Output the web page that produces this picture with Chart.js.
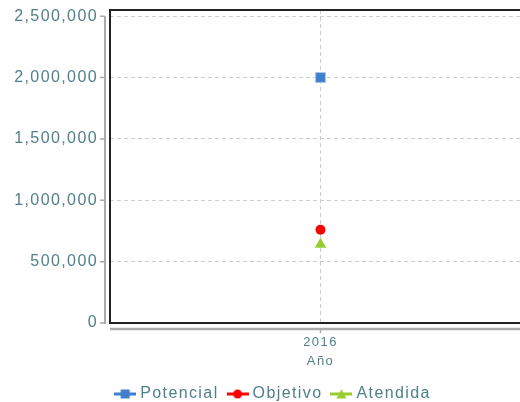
<!DOCTYPE html>
<html>
<head>
<meta charset="utf-8">
<script src="https://cdn.jsdelivr.net/npm/chart.js@4.4.0/dist/chart.umd.min.js"></script>
<style>
  html, body { margin: 0; padding: 0; background: #fff; overflow: hidden; }
  #wrap { width: 539px; height: 402px; }
</style>
</head>
<body>
<div id="wrap"><canvas id="chart"></canvas></div>
<script>
// data
const years = ['2016'];
const potencial = [2000000];
const objetivo = [760000];
const atendida = [640000];
const yTicks = [0, 500000, 1000000, 1500000, 2000000, 2500000];

const TEXT = '#4f7f8a';
const BLUE = '#3f7fcc';
const RED = '#ff0000';
const GREEN = '#99cc33';

Chart.defaults.font.family = '"Liberation Sans", Arial, sans-serif';
Chart.defaults.color = TEXT;

// small line + marker pictures for the legend
function legendMarker(color, shape) {
    const c = document.createElement('canvas');
    c.width = 22;
    c.height = 12;
    const g = c.getContext('2d');
    g.strokeStyle = color;
    g.fillStyle = color;
    g.lineWidth = 3;
    g.beginPath();
    g.moveTo(0, 6);
    g.lineTo(22, 6);
    g.stroke();
    g.beginPath();
    if (shape === 'rect') {
        g.rect(6.5, 1.5, 9, 9);
    } else if (shape === 'circle') {
        g.arc(11, 6, 4.5, 0, Math.PI * 2);
    } else {
        g.moveTo(11, 1);
        g.lineTo(16, 10.5);
        g.lineTo(6, 10.5);
        g.closePath();
    }
    g.fill();
    return c;
}

const markers = [
    legendMarker(BLUE, 'rect'),
    legendMarker(RED, 'circle'),
    legendMarker(GREEN, 'triangle')
];

// black frame round the plot, plus the grey axis lines set off from it
const framePlugin = {
    id: 'frame',
    beforeLayout(chart) {
        chart.ctx.letterSpacing = '1.4px';
    },
    beforeDraw(chart) {
        chart.ctx.letterSpacing = '1.4px';
    },
    afterDraw(chart) {
        const { ctx, chartArea: a, scales: { x, y } } = chart;
        ctx.save();
        ctx.strokeStyle = '#222';
        ctx.lineWidth = 2;
        ctx.beginPath();
        ctx.moveTo(a.right + 2, a.top);
        ctx.lineTo(a.left, a.top);
        ctx.lineTo(a.left, a.bottom);
        ctx.lineTo(a.right + 2, a.bottom);
        ctx.stroke();

        ctx.strokeStyle = '#aaaaaa';
        ctx.lineWidth = 2;
        const yTop = y.getPixelForValue(yTicks[yTicks.length - 1]);
        const yBot = y.getPixelForValue(yTicks[0]);
        const axX = a.left - 5;
        ctx.beginPath();
        ctx.moveTo(axX, yTop);
        ctx.lineTo(axX, yBot + 1);
        ctx.stroke();
        ctx.lineWidth = 1.5;
        ctx.beginPath();
        for (const v of yTicks) {
            const py = y.getPixelForValue(v);
            ctx.moveTo(axX - 5, py);
            ctx.lineTo(axX, py);
        }
        ctx.stroke();

        const axY = a.bottom + 6;
        ctx.lineWidth = 2.5;
        ctx.beginPath();
        ctx.moveTo(a.left, axY);
        ctx.lineTo(a.right + 2, axY);
        ctx.stroke();
        ctx.lineWidth = 1.5;
        ctx.beginPath();
        years.forEach((_, i) => {
            const px = x.getPixelForTick(i);
            ctx.moveTo(px, axY);
            ctx.lineTo(px, axY + 4);
        });
        ctx.stroke();
        ctx.restore();
    }
};

new Chart(document.getElementById('chart'), {
    type: 'line',
    data: {
        labels: years,
        datasets: [
            {
                label: 'Potencial',
                data: potencial,
                showLine: false,
                pointStyle: 'rect',
                pointRadius: 7,
                backgroundColor: BLUE,
                borderColor: '#a9c6ec',
                pointBorderWidth: 1
            },
            {
                label: 'Objetivo',
                data: objetivo,
                showLine: false,
                pointStyle: 'circle',
                pointRadius: 5,
                backgroundColor: RED,
                borderColor: RED,
                pointBorderWidth: 0
            },
            {
                label: 'Atendida',
                data: atendida,
                showLine: false,
                pointStyle: 'triangle',
                pointRadius: 6.7,
                backgroundColor: GREEN,
                borderColor: GREEN,
                pointBorderWidth: 0
            }
        ]
    },
    options: {
        responsive: true,
        maintainAspectRatio: false,
        animation: false,
        layout: { padding: { top: 10, left: 10, right: 0, bottom: -10 } },
        plugins: {
            tooltip: { enabled: false },
            legend: {
                position: 'bottom',
                labels: {
                    usePointStyle: true,
                    pointStyleWidth: 14,
                    padding: 12,
                    font: { size: 16 },
                    color: TEXT,
                    generateLabels(chart) {
                        const items = Chart.defaults.plugins.legend.labels.generateLabels(chart);
                        items.forEach((it, i) => { it.pointStyle = markers[i]; });
                        return items;
                    }
                }
            }
        },
        scales: {
            x: {
                type: 'category',
                offset: true,
                afterFit(scale) {
                    scale.height = 51;
                },
                grid: { offset: false, color: '#cccccc', drawTicks: false },
                border: { display: false, dash: [4, 3] },
                ticks: { padding: 12, font: { size: 13 }, color: TEXT },
                title: { display: true, text: 'Año', font: { size: 13 }, color: TEXT, padding: { top: 0, bottom: 5 } }
            },
            y: {
                min: 0,
                max: 2550000,
                afterBuildTicks(scale) {
                    scale.ticks = yTicks.map(v => ({ value: v }));
                },
                afterFit(scale) {
                    scale.width = 100;
                    scale.paddingTop = 0;
                    scale.paddingBottom = 0;
                },
                grid: { color: '#cccccc', drawTicks: false },
                border: { display: false, dash: [4, 3] },
                ticks: {
                    padding: 12,
                    font: { size: 16 },
                    color: TEXT,
                    callback: v => v.toLocaleString('en-US')
                }
            }
        }
    },
    plugins: [framePlugin]
});
</script>
</body>
</html>
